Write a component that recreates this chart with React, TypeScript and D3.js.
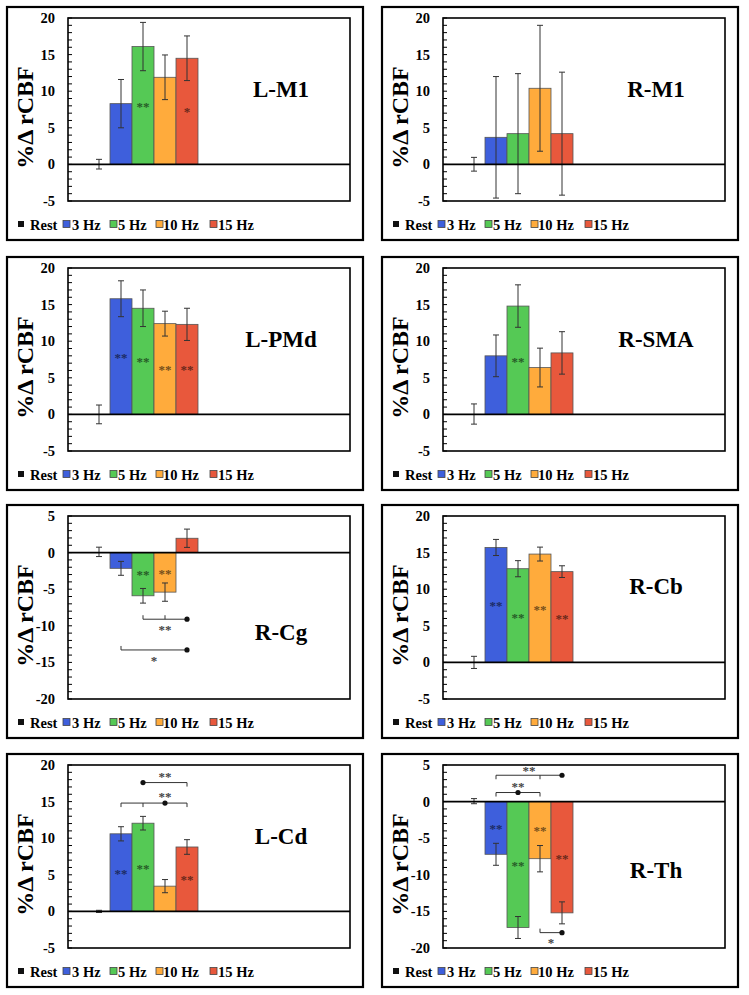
import React, { useEffect, useRef } from "react";
import * as d3 from "d3";

// conditions (one bar each) and their colours
const categories = ["Rest", "3 Hz", "5 Hz", "10 Hz", "15 Hz"];
const colors = ["#111111", "#3e5fdc", "#55c955", "#ffab3c", "#e8583c"];

// brain regions, one panel each
const regions = ["L-M1", "R-M1", "L-PMd", "R-SMA", "R-Cg", "R-Cb", "L-Cd", "R-Th"];

// mean %change in rCBF per region, in category order
const means = [
  [0.03, 8.3, 16.1, 11.9, 14.5],
  [0.02, 3.7, 4.2, 10.4, 4.2],
  [0.0, 15.8, 14.5, 12.4, 12.3],
  [0.05, 8.0, 14.8, 6.4, 8.4],
  [0.1, -2.15, -5.9, -5.4, 1.96],
  [0.0, 15.7, 12.8, 14.8, 12.4],
  [0.0, 10.6, 12.05, 3.45, 8.8],
  [0.06, -7.2, -17.2, -7.8, -15.2],
];

// standard errors
const sems = [
  [0.66, 3.3, 3.3, 3.05, 3.05],
  [0.94, 8.3, 8.2, 8.6, 8.4],
  [1.28, 2.45, 2.5, 1.7, 2.2],
  [1.38, 2.85, 2.9, 2.65, 2.9],
  [0.64, 0.95, 1.0, 1.25, 1.25],
  [0.83, 1.1, 1.1, 0.95, 0.8],
  [0.15, 0.97, 0.93, 0.9, 1.0],
  [0.35, 1.5, 1.5, 1.8, 1.5],
];

const yDomains = [
  [-5, 20], [-5, 20], [-5, 20], [-5, 20],
  [-20, 5], [-5, 20], [-5, 20], [-20, 5],
];

// y value of the region name baseline
const regionLabelY = [9.2, 9.2, 9.2, 9.2, -12, 9.3, 9.2, -10.4];

// stars inside bars: [category index, text, y value]
const barStars = [
  [[2, "**", 8.1], [4, "*", 7.4]],
  [],
  [[1, "**", 8.0], [2, "**", 7.4], [3, "**", 6.3], [4, "**", 6.3]],
  [[2, "**", 7.4]],
  [[2, "**", -2.8], [3, "**", -2.6]],
  [[1, "**", 8.0], [2, "**", 6.4], [3, "**", 7.5], [4, "**", 6.2]],
  [[1, "**", 5.4], [2, "**", 6.1], [4, "**", 4.5]],
  [[1, "**", -3.5], [2, "**", -8.5], [3, "**", -3.8], [4, "**", -7.5]],
];

// pairwise comparison brackets
// from/to: category index, ticks: indices with a tick, dot: index with the dot,
// dir: +1 ticks go up, -1 down; label drawn at lx (index) / ly (value)
type Bracket = { region: number; y: number; from: number; to: number; ticks: number[]; dot: number; dir: number; label: string; lx: number; ly: number };
const brackets: Bracket[] = [
  { region: 4, y: -9.1, from: 2, to: 4, ticks: [2, 3], dot: 4, dir: 1, label: "**", lx: 3, ly: -10.3 },
  { region: 4, y: -13.3, from: 1, to: 4, ticks: [1], dot: 4, dir: 1, label: "*", lx: 2.5, ly: -14.5 },
  { region: 6, y: 17.6, from: 2, to: 4, ticks: [4], dot: 2, dir: -1, label: "**", lx: 3, ly: 18.7 },
  { region: 6, y: 14.8, from: 1, to: 4, ticks: [1, 2, 4], dot: 3, dir: -1, label: "**", lx: 3, ly: 15.9 },
  { region: 7, y: 3.6, from: 1, to: 4, ticks: [1, 3], dot: 4, dir: -1, label: "**", lx: 2.5, ly: 4.4 },
  { region: 7, y: 1.24, from: 1, to: 3, ticks: [1, 3], dot: 2, dir: -1, label: "**", lx: 2, ly: 2.3 },
  { region: 7, y: -17.9, from: 3, to: 4, ticks: [3], dot: 4, dir: 1, label: "*", lx: 3.5, ly: -19.1 },
];

const FONT = "'Liberation Serif', 'Times New Roman', serif";

const App = () => {
  const ref = useRef<SVGSVGElement | null>(null);

  useEffect(() => {
    document.body.style.margin = "0";
    const svg = d3.select(ref.current);
    svg.selectAll("*").remove();

    const colX = [7, 382];
    const rowY = [7, 257, 505, 754];
    const panelW = 356;
    const panelH = 233;
    const m = { left: 61, top: 11 };
    const pw = 282;
    const ph = 183;

    regions.forEach((name, i) => {
      const col = i % 2;
      const row = Math.floor(i / 2);
      const g = svg.append("g").attr("transform", `translate(${colX[col]},${rowY[row]})`);

      g.append("rect")
        .attr("width", panelW)
        .attr("height", panelH)
        .attr("fill", "white")
        .attr("stroke", "#000")
        .attr("stroke-width", 2.2);

      const y = d3.scaleLinear().domain(yDomains[i]).range([m.top + ph, m.top]);
      const x = d3
        .scaleBand()
        .domain(categories)
        .range([m.left + 20, m.left + 130])
        .padding(0);
      const cx = (k: number) => (x.range()[0] as number) + (k + 0.5) * x.bandwidth();

      const data = categories.map((c, k) => ({ c, k, v: means[i][k], e: sems[i][k] }));

      // bars
      g.append("g")
        .selectAll("rect")
        .data(data.filter((d) => d.k > 0))
        .join("rect")
        .attr("x", (d) => x(d.c)!)
        .attr("y", (d) => y(Math.max(0, d.v)))
        .attr("width", x.bandwidth())
        .attr("height", (d) => Math.abs(y(d.v) - y(0)))
        .attr("fill", (d) => colors[d.k])
        .attr("stroke", "#555")
        .attr("stroke-width", 0.8);

      // error bars
      const eb = g.append("g").attr("stroke", "#333").attr("stroke-width", 1);
      data.forEach((d) => {
        const xc = cx(d.k);
        eb.append("line").attr("x1", xc).attr("x2", xc).attr("y1", y(d.v - d.e)).attr("y2", y(d.v + d.e));
        [d.v - d.e, d.v + d.e].forEach((v) => {
          eb.append("line").attr("x1", xc - 3).attr("x2", xc + 3).attr("y1", y(v)).attr("y2", y(v));
        });
      });

      // zero line
      g.append("line")
        .attr("x1", m.left)
        .attr("x2", m.left + pw)
        .attr("y1", y(0))
        .attr("y2", y(0))
        .attr("stroke", "#000")
        .attr("stroke-width", 1.6);

      // plot frame
      g.append("rect")
        .attr("x", m.left)
        .attr("y", m.top)
        .attr("width", pw)
        .attr("height", ph)
        .attr("fill", "none")
        .attr("stroke", "#000")
        .attr("stroke-width", 1.6);

      // minor ticks inside the left axis
      const [d0, d1] = yDomains[i];
      g.append("g")
        .selectAll("line")
        .data(d3.range(d0, d1 + 0.5, 1))
        .join("line")
        .attr("x1", m.left)
        .attr("x2", m.left + 4)
        .attr("y1", (v) => y(v))
        .attr("y2", (v) => y(v))
        .attr("stroke", "#000")
        .attr("stroke-width", 1);

      // tick labels
      g.append("g")
        .selectAll("text")
        .data(d3.range(d0, d1 + 0.5, 5))
        .join("text")
        .attr("x", m.left - 13)
        .attr("y", (v) => y(v) + 5)
        .attr("text-anchor", "end")
        .attr("font-family", FONT)
        .attr("font-weight", "bold")
        .attr("font-size", 14.5)
        .text((v) => String(v));

      // y axis title
      g.append("text")
        .attr("transform", `translate(${26},${m.top + ph / 2 + 8}) rotate(-90)`)
        .attr("text-anchor", "middle")
        .attr("font-family", FONT)
        .attr("font-weight", "bold")
        .attr("font-size", 24)
        .text("%Δ rCBF");

      // region name
      g.append("text")
        .attr("x", m.left + 213)
        .attr("y", y(regionLabelY[i]))
        .attr("text-anchor", "middle")
        .attr("font-family", FONT)
        .attr("font-weight", "bold")
        .attr("font-size", 23)
        .text(name);

      // stars inside bars
      (barStars[i] as [number, string, number][]).forEach(([k, t, v]) => {
        g.append("text")
          .attr("x", cx(k))
          .attr("y", y(v) + 6)
          .attr("text-anchor", "middle")
          .attr("font-family", FONT)
          .attr("font-weight", "bold")
          .attr("font-size", 13)
          .attr("fill", d3.color(colors[k])!.darker(2.2).formatHex())
          .text(t);
      });

      // comparison brackets
      brackets
        .filter((b) => b.region === i)
        .forEach((b) => {
          const bg = g.append("g").attr("stroke", "#333").attr("stroke-width", 1);
          const yy = y(b.y);
          bg.append("line").attr("x1", cx(b.from)).attr("x2", cx(b.to)).attr("y1", yy).attr("y2", yy);
          b.ticks.forEach((k) => {
            bg.append("line").attr("x1", cx(k)).attr("x2", cx(k)).attr("y1", yy).attr("y2", yy - b.dir * 4);
          });
          g.append("circle").attr("cx", cx(b.dot)).attr("cy", yy).attr("r", 2.6).attr("fill", "#111");
          g.append("text")
            .attr("x", cx(b.lx))
            .attr("y", y(b.ly) + 6)
            .attr("text-anchor", "middle")
            .attr("font-family", FONT)
            .attr("font-weight", "bold")
            .attr("font-size", 13)
            .attr("fill", "#444")
            .text(b.label);
        });

      // legend
      const keyX = [11, 56, 103, 149, 203];
      const textX = [23, 65, 111, 156, 211];
      const ly = 218;
      const legend = g.append("g");
      categories.forEach((c, k) => {
        const s = k === 0 ? 6 : 7;
        legend
          .append("rect")
          .attr("x", keyX[k])
          .attr("y", ly - s / 2 - 1)
          .attr("width", s)
          .attr("height", s)
          .attr("fill", colors[k])
          .attr("stroke", k === 0 ? "none" : "#444")
          .attr("stroke-width", 0.8);
        legend
          .append("text")
          .attr("x", textX[k])
          .attr("y", ly + 5)
          .attr("font-family", FONT)
          .attr("font-weight", "bold")
          .attr("font-size", 14.5)
          .text(c);
      });
    });
  }, []);

  return <svg ref={ref} width={749} height={995} style={{ display: "block", background: "white" }} />;
};

export default App;
